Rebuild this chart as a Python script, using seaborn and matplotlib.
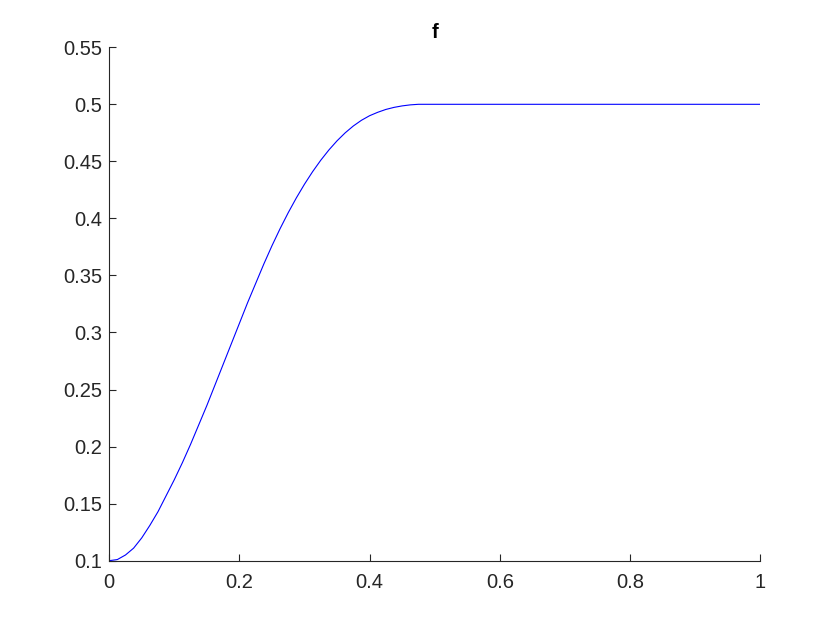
import numpy as np
import pandas as pd
import matplotlib
matplotlib.use("Agg")
import matplotlib.pyplot as plt
import seaborn as sns

# values
x_vals = [0.0, 0.0125, 0.025, 0.0375, 0.05, 0.0625, 0.075, 0.0875, 0.1, 0.1125,
          0.125, 0.1375, 0.15, 0.1625, 0.175, 0.1875, 0.2, 0.2125, 0.225, 0.2375,
          0.25, 0.2625, 0.275, 0.2875, 0.3, 0.3125, 0.325, 0.3375, 0.35, 0.3625,
          0.375, 0.3875, 0.4, 0.4125, 0.425, 0.4375, 0.45, 0.4625, 0.475, 0.4875,
          0.5, 0.6, 0.7, 0.8, 0.9, 1.0]
f_vals = [0.100, 0.101, 0.105, 0.111, 0.120, 0.131, 0.143, 0.157, 0.171, 0.186,
          0.202, 0.219, 0.236, 0.254, 0.272, 0.290, 0.308, 0.326, 0.343, 0.360,
          0.376, 0.391, 0.405, 0.418, 0.430, 0.441, 0.451, 0.460, 0.468, 0.475,
          0.481, 0.486, 0.490, 0.493, 0.4955, 0.4973, 0.4986, 0.4995, 0.5, 0.5,
          0.5, 0.5, 0.5, 0.5, 0.5, 0.5]
x_ticks = [0, 0.2, 0.4, 0.6, 0.8, 1]
y_ticks = [0.1, 0.15, 0.2, 0.25, 0.3, 0.35, 0.4, 0.45, 0.5, 0.55]

df = pd.DataFrame({"x": x_vals, "f": f_vals})

sns.set_style("white")
plt.rcParams["font.family"] = ["Liberation Sans", "DejaVu Sans"]
dark = "#262626"

fig = plt.figure(figsize=(8.4, 6.3), dpi=100)
ax = fig.add_axes([0.13, 0.11, 0.775, 0.815])

sns.lineplot(data=df, x="x", y="f", color="#0000ff", linewidth=0.8, ax=ax)

ax.set_xlim(0, 1)
ax.set_ylim(0.1, 0.55)
ax.set_xticks(x_ticks)
ax.set_xticklabels(["0", "0.2", "0.4", "0.6", "0.8", "1"])
ax.set_yticks(y_ticks)
ax.set_yticklabels(["0.1", "0.15", "0.2", "0.25", "0.3", "0.35", "0.4", "0.45", "0.5", "0.55"])
ax.set_xlabel("")
ax.set_ylabel("")
ax.set_title("f", fontsize=14.5, fontweight="bold", color="black", pad=7)

for side in ["top", "right"]:
    ax.spines[side].set_visible(False)
for side in ["left", "bottom"]:
    ax.spines[side].set_color(dark)
    ax.spines[side].set_linewidth(0.8)
ax.tick_params(direction="in", length=4.7, width=0.8, colors=dark,
               labelsize=14.5, pad=5, bottom=True, left=True)
ax.tick_params(axis="x", pad=9)

fig.savefig("out.png", dpi=100)
